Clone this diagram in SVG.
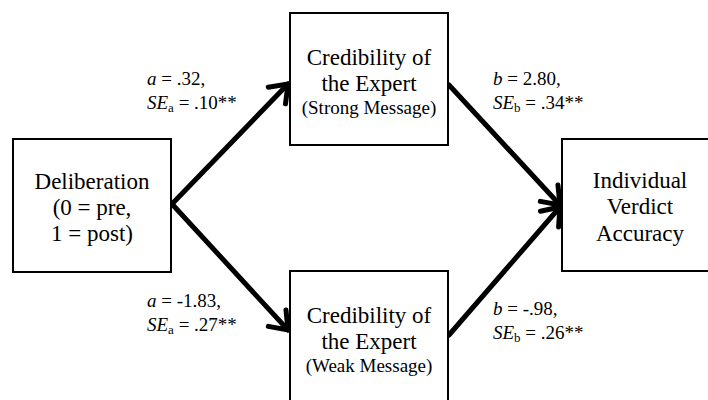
<svg xmlns="http://www.w3.org/2000/svg" width="708" height="400" viewBox="0 0 708 400">
<style>
.box{fill:#fff;stroke:#000;stroke-width:2}
.t{font-family:"Liberation Serif","Times New Roman",serif;font-size:23px;fill:#000;text-anchor:middle}
.s{font-size:19px}
.lab{font-family:"Liberation Serif","Times New Roman",serif;font-size:19px;fill:#000}
.conn{stroke:#000;stroke-width:5;fill:none;stroke-linecap:round}
</style>
<defs>
<marker id="ah" markerUnits="userSpaceOnUse" markerWidth="30" markerHeight="30" refX="20" refY="15" orient="auto" viewBox="0 0 30 30">
<polyline points="4,3 20,15 4,27" fill="none" stroke="#000" stroke-width="5" stroke-linecap="round" stroke-linejoin="miter"/>
</marker>
</defs>
<g id="connectors">
<line class="conn" x1="172" y1="204" x2="288" y2="84" marker-end="url(#ah)"/>
<line class="conn" x1="172" y1="204" x2="288" y2="330" marker-end="url(#ah)"/>
<line class="conn" x1="449" y1="85" x2="560" y2="205" marker-end="url(#ah)"/>
<line class="conn" x1="449" y1="335" x2="560" y2="207" marker-end="url(#ah)"/>
</g>
<g id="deliberation">
<rect class="box" x="13" y="139" width="158" height="133"/>
<text class="t" x="92" y="189">Deliberation</text>
<text class="t" x="92" y="215">(0 = pre,</text>
<text class="t" x="92" y="241">1 = post)</text>
</g>
<g id="strong">
<rect class="box" x="290" y="13" width="158" height="132"/>
<text class="t" x="369" y="65">Credibility of</text>
<text class="t" x="369" y="91">the Expert</text>
<text class="t s" x="369" y="114">(Strong Message)</text>
</g>
<g id="weak">
<rect class="box" x="290" y="271" width="158" height="140"/>
<text class="t" x="369" y="323">Credibility of</text>
<text class="t" x="369" y="349">the Expert</text>
<text class="t s" x="369" y="372">(Weak Message)</text>
</g>
<g id="accuracy">
<rect class="box" x="562" y="139" width="160" height="132"/>
<text class="t" x="640" y="188">Individual</text>
<text class="t" x="640" y="214">Verdict</text>
<text class="t" x="640" y="241">Accuracy</text>
</g>
<g id="labels">
<text class="lab" x="147" y="85"><tspan font-style="italic">a</tspan> = .32,</text>
<text class="lab" x="147" y="109"><tspan font-style="italic">SE</tspan><tspan font-size="13" dy="3">a</tspan><tspan dy="-3">  = .10**</tspan></text>
<text class="lab" x="493" y="85"><tspan font-style="italic">b</tspan> = 2.80,</text>
<text class="lab" x="493" y="109"><tspan font-style="italic">SE</tspan><tspan font-size="13" dy="3">b</tspan><tspan dy="-3">  = .34**</tspan></text>
<text class="lab" x="147" y="307"><tspan font-style="italic">a</tspan> = -1.83,</text>
<text class="lab" x="147" y="331"><tspan font-style="italic">SE</tspan><tspan font-size="13" dy="3">a</tspan><tspan dy="-3">  = .27**</tspan></text>
<text class="lab" x="493" y="315"><tspan font-style="italic">b</tspan> = -.98,</text>
<text class="lab" x="493" y="339"><tspan font-style="italic">SE</tspan><tspan font-size="13" dy="3">b</tspan><tspan dy="-3">  = .26**</tspan></text>
</g>
</svg>
